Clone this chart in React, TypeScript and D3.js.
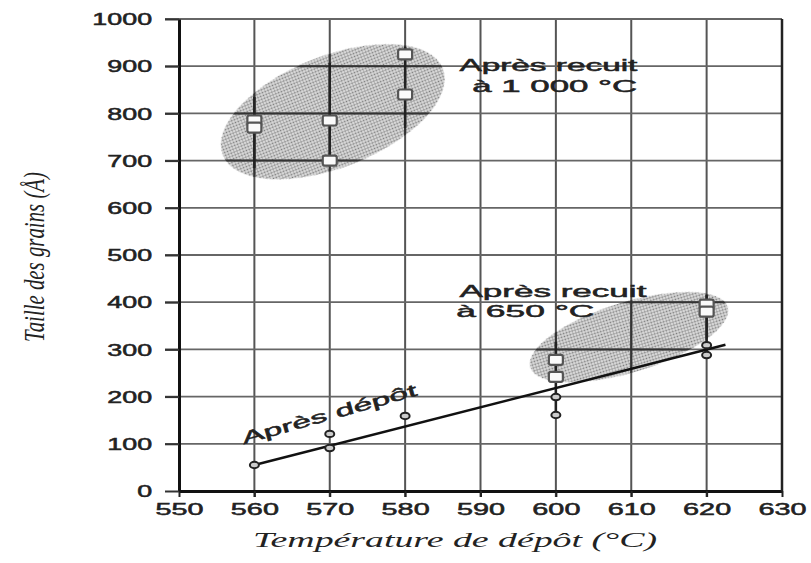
import { useRef, useEffect } from "react";
import * as d3 from "d3";

// x ticks (°C) and y ticks (Å)
const xTicks = [550, 560, 570, 580, 590, 600, 610, 620, 630];
const yTicks = [0, 100, 200, 300, 400, 500, 600, 700, 800, 900, 1000];

// après recuit à 1000 °C (squares)
const recuit1000X = [560, 560, 570, 570, 580, 580];
const recuit1000Y = [785, 770, 785, 700, 925, 840];

// après recuit à 650 °C (squares)
const recuit650X = [600, 600, 620, 620];
const recuit650Y = [278, 242, 395, 380];

// après dépôt (open circles)
const depotX = [560, 570, 570, 580, 600, 600, 620, 620];
const depotY = [55, 121, 91, 159, 199, 161, 309, 288];

// fitted line for après dépôt
const fitX = [560, 622.5];
const fitY = [55, 310];

// scatter bars (vertical ranges)
const barX = [560, 570, 580, 600, 620];
const barLow = [684, 700, 769, 155, 282];
const barHigh = [835, 907, 941, 316, 415];

// shaded zones: major axis end points (data units) and half width (Å)
const zoneX1 = [555.8, 596.6];
const zoneY1 = [712, 262];
const zoneX2 = [585, 622.8];
const zoneY2 = [895, 390];
const zoneHalf = [118, 74];

const annLines1000 = ["Après recuit", "à 1 000 °C"];
const annLines650 = ["Après recuit", "à 650 °C"];

const App = () => {
	const svgRef = useRef(null);

	useEffect(() => {
		const w = 811;
		const h = 563;
		const svg = d3.select(svgRef.current);
		svg.selectAll("*").remove();
		svg.attr("width", w).attr("height", h);

		const x = d3.scaleLinear().domain([550, 630]).range([179, 782]);
		const y = d3.scaleLinear().domain([0, 1000]).range([491, 19]);
		const sans = "'Liberation Sans', Arial, sans-serif";
		const serif = "'Liberation Serif', 'Times New Roman', serif";

		const defs = svg.append("defs");
		const pat = defs.append("pattern")
			.attr("id", "dots")
			.attr("width", 3)
			.attr("height", 3)
			.attr("patternUnits", "userSpaceOnUse");
		pat.append("rect").attr("width", 3).attr("height", 3).attr("fill", "#e2e2e2");
		pat.append("circle").attr("cx", 1.5).attr("cy", 1.5).attr("r", 1.05).attr("fill", "#7a7a7a");
		defs.append("filter").attr("id", "soft")
			.append("feGaussianBlur").attr("stdDeviation", 0.45);

		// shaded zones
		const zones = zoneX1.map((_, i) => {
			const px1 = x(zoneX1[i]), py1 = y(zoneY1[i]);
			const px2 = x(zoneX2[i]), py2 = y(zoneY2[i]);
			const cx = (px1 + px2) / 2, cy = (py1 + py2) / 2;
			const a = Math.hypot(px2 - px1, py2 - py1) / 2;
			const b = y(0) - y(zoneHalf[i]);
			const ang = (Math.atan2(py2 - py1, px2 - px1) * 180) / Math.PI;
			return { cx, cy, a, b, ang };
		});
		zones.forEach((z, i) => {
			defs.append("clipPath").attr("id", "zclip" + i)
				.append("ellipse")
				.attr("rx", z.a).attr("ry", z.b)
				.attr("transform", `translate(${z.cx},${z.cy}) rotate(${z.ang})`);
		});
		svg.append("g").selectAll("ellipse")
			.data(zones)
			.join("ellipse")
			.attr("rx", d => d.a)
			.attr("ry", d => d.b)
			.attr("transform", d => `translate(${d.cx},${d.cy}) rotate(${d.ang})`)
			.attr("fill", "url(#dots)")
			.attr("filter", "url(#soft)");

		// grid
		const grid = svg.append("g");
		grid.selectAll("line.v")
			.data(xTicks.slice(1, -1))
			.join("line")
			.attr("x1", d => x(d)).attr("x2", d => x(d))
			.attr("y1", y(1000)).attr("y2", y(0) + 6)
			.attr("stroke", "#555").attr("stroke-width", 2);
		grid.selectAll("line.h")
			.data(yTicks.slice(1))
			.join("line")
			.attr("class", "h")
			.attr("x1", x(550) - 14).attr("x2", x(630))
			.attr("y1", d => y(d)).attr("y2", d => y(d))
			.attr("stroke", "#666").attr("stroke-width", 1.8);

		// darker grid inside shaded zones
		zones.forEach((_, i) => {
			const g = svg.append("g").attr("clip-path", `url(#zclip${i})`);
			g.selectAll("line.v")
				.data(xTicks)
				.join("line")
				.attr("x1", d => x(d)).attr("x2", d => x(d))
				.attr("y1", y(1000)).attr("y2", y(0))
				.attr("stroke", "#333").attr("stroke-width", 2);
			g.selectAll("line.h")
				.data(yTicks)
				.join("line")
				.attr("x1", x(550)).attr("x2", x(630))
				.attr("y1", d => y(d)).attr("y2", d => y(d))
				.attr("stroke", "#333").attr("stroke-width", 2);
		});

		// axes
		const xAxis = d3.axisBottom(x).tickValues(xTicks).tickFormat(d3.format("d")).tickSize(6).tickSizeOuter(0);
		const gx = svg.append("g")
			.attr("transform", `translate(0,${y(0)})`)
			.call(xAxis);
		gx.select(".domain").attr("stroke", "#111").attr("stroke-width", 3);
		gx.selectAll(".tick line").attr("stroke", "#222").attr("stroke-width", 2);
		gx.selectAll(".tick text")
			.attr("y", 13)
			.attr("dy", "0.71em")
			.attr("transform", "scale(1.8,1)")
			.attr("fill", "#222")
			.attr("stroke", "#222")
			.attr("stroke-width", 0.5)
			.style("font-family", sans)
			.style("font-size", "16px");

		const yAxis = d3.axisLeft(y).tickValues(yTicks).tickFormat(d3.format("d")).tickSize(14).tickSizeOuter(0);
		const gy = svg.append("g")
			.attr("transform", `translate(${x(550)},0)`)
			.call(yAxis);
		gy.select(".domain").attr("stroke", "#111").attr("stroke-width", 3);
		gy.selectAll(".tick line").attr("stroke", "#333").attr("stroke-width", 2);
		gy.selectAll(".tick text")
			.attr("x", -16)
			.attr("dy", "0.36em")
			.attr("transform", "scale(1.68,1)")
			.attr("fill", "#222")
			.attr("stroke", "#222")
			.attr("stroke-width", 0.5)
			.style("font-family", sans)
			.style("font-size", "16px");

		// right border
		svg.append("line")
			.attr("x1", x(630)).attr("x2", x(630))
			.attr("y1", y(1000)).attr("y2", y(0))
			.attr("stroke", "#222").attr("stroke-width", 2.5);

		// scatter bars
		svg.append("g").selectAll("line")
			.data(barX)
			.join("line")
			.attr("x1", d => x(d)).attr("x2", d => x(d))
			.attr("y1", (_, i) => y(barLow[i]))
			.attr("y2", (_, i) => y(barHigh[i]))
			.attr("stroke", "#222").attr("stroke-width", 2.5);

		// fitted line
		const line = d3.line()
			.x(d => x(d[0]))
			.y(d => y(d[1]));
		svg.append("path")
			.datum(fitX.map((v, i) => [v, fitY[i]]))
			.attr("d", line)
			.attr("fill", "none")
			.attr("stroke", "#111")
			.attr("stroke-width", 2.5);

		// circles
		svg.append("g").selectAll("ellipse")
			.data(depotX.map((v, i) => [v, depotY[i]]))
			.join("ellipse")
			.attr("cx", d => x(d[0]))
			.attr("cy", d => y(d[1]))
			.attr("rx", 4.5).attr("ry", 3.2)
			.attr("fill", "#ccc")
			.attr("stroke", "#222").attr("stroke-width", 2);

		// squares
		const sq = recuit1000X.map((v, i) => [v, recuit1000Y[i]])
			.concat(recuit650X.map((v, i) => [v, recuit650Y[i]]));
		svg.append("g").selectAll("rect")
			.data(sq)
			.join("rect")
			.attr("x", d => x(d[0]) - 7)
			.attr("y", d => y(d[1]) - 5)
			.attr("width", 14).attr("height", 10)
			.attr("rx", 2)
			.attr("fill", "#fafafa")
			.attr("stroke", "#555").attr("stroke-width", 2.2);

		// annotations
		const ann = (txt, px, py, len) => svg.append("text")
			.attr("x", px).attr("y", py)
			.attr("textLength", len)
			.attr("lengthAdjust", "spacingAndGlyphs")
			.attr("fill", "#222")
			.attr("stroke", "#222")
			.attr("stroke-width", 0.5)
			.style("font-family", sans)
			.style("font-size", "17px")
			.text(txt);
		ann(annLines1000[0], x(587.2), y(889), 178);
		ann(annLines1000[1], x(588.9), y(845), 165);
		ann(annLines650[0], x(587.2), y(411), 187);
		ann(annLines650[1], x(586.8), y(369), 138);

		svg.append("text")
			.attr("transform", `translate(${x(558.6)},${y(99)}) rotate(-15.7)`)
			.attr("textLength", 181)
			.attr("lengthAdjust", "spacingAndGlyphs")
			.attr("fill", "#222")
			.attr("stroke", "#222")
			.attr("stroke-width", 0.5)
			.style("font-family", sans)
			.style("font-size", "17px")
			.text("Après dépôt");

		// axis titles
		svg.append("text")
			.attr("x", 455).attr("y", 547)
			.attr("text-anchor", "middle")
			.attr("textLength", 404)
			.attr("lengthAdjust", "spacingAndGlyphs")
			.attr("fill", "#222")
			.style("font-family", serif)
			.style("font-style", "italic")
			.style("font-size", "21px")
			.text("Température de dépôt (°C)");

		svg.append("text")
			.attr("transform", "translate(34,257) scale(1.6,1) rotate(-90)")
			.attr("text-anchor", "middle")
			.attr("dy", "0.32em")
			.attr("textLength", 170)
			.attr("lengthAdjust", "spacingAndGlyphs")
			.attr("fill", "#222")
			.style("font-family", serif)
			.style("font-style", "italic")
			.style("font-size", "19px")
			.text("Taille des grains (Å)");
	}, []);

	return (
		<div>
			<svg ref={svgRef} style={{ position: "absolute", left: 0, top: 0, background: "#fff" }}></svg>
		</div>
	);
};

export default App;
